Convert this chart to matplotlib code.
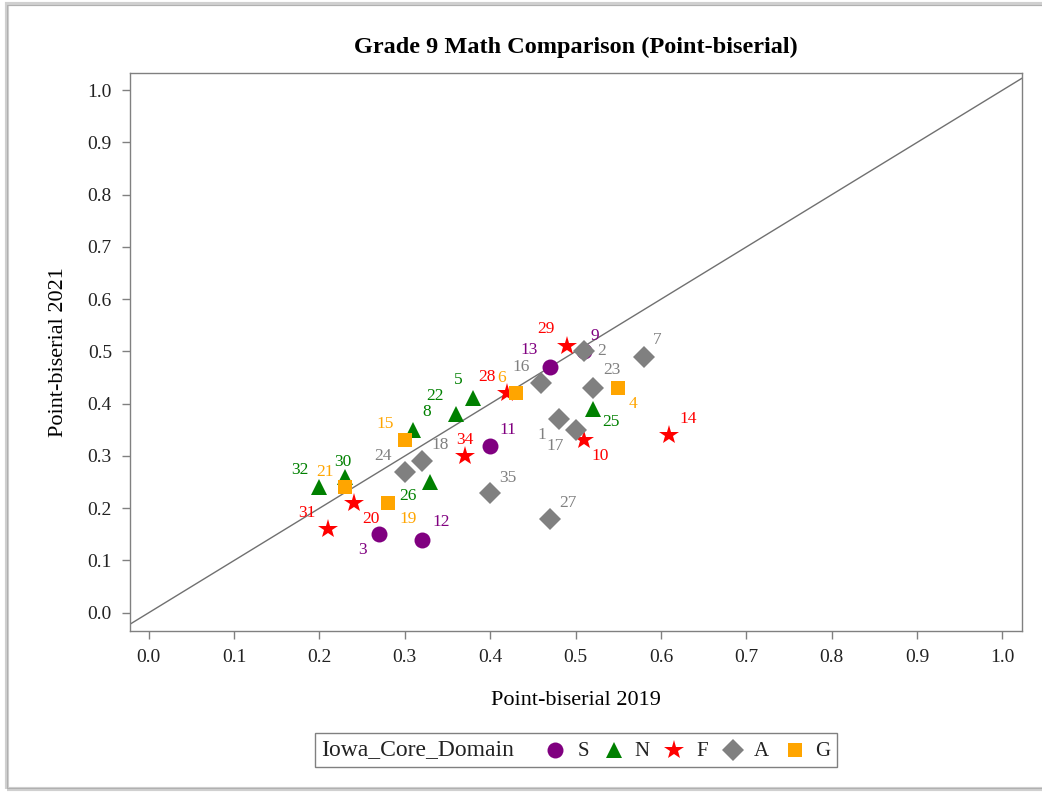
import matplotlib

matplotlib.use("Agg")
import matplotlib.pyplot as plt
from matplotlib.lines import Line2D
from matplotlib.patches import Rectangle

plt.rcParams["font.family"] = ["Liberation Serif", "DejaVu Serif"]

# item numbers, domain and point-biserial values
item_ids = [1, 2, 3, 4, 5, 6, 7, 8, 9, 10, 11, 12, 13, 14, 15, 16, 17,
            18, 19, 20, 21, 22, 23, 24, 25, 26, 27, 28, 29, 30, 31, 32,
            34, 35]
domains = ["A", "A", "S", "G", "N", "G", "A", "N", "S", "F", "S", "S",
           "S", "F", "G", "A", "A", "A", "G", "F", "G", "N", "A", "A",
           "N", "N", "A", "F", "F", "N", "F", "N", "F", "A"]
pb_2019 = [0.48, 0.51, 0.27, 0.55, 0.38, 0.43, 0.58, 0.31, 0.51, 0.51,
           0.40, 0.32, 0.47, 0.61, 0.30, 0.46, 0.50, 0.32, 0.28, 0.24,
           0.23, 0.36, 0.52, 0.30, 0.52, 0.33, 0.47, 0.42, 0.49, 0.23,
           0.21, 0.20, 0.37, 0.40]
pb_2021 = [0.37, 0.50, 0.15, 0.43, 0.41, 0.42, 0.49, 0.35, 0.50, 0.33,
           0.32, 0.14, 0.47, 0.34, 0.33, 0.44, 0.35, 0.29, 0.21, 0.21,
           0.24, 0.38, 0.43, 0.27, 0.39, 0.25, 0.18, 0.42, 0.51, 0.26,
           0.16, 0.24, 0.30, 0.23]
domain_order = ["S", "N", "F", "A", "G"]
ticks = [0.0, 0.1, 0.2, 0.3, 0.4, 0.5, 0.6, 0.7, 0.8, 0.9, 1.0]

STYLE = {
    "S": dict(marker="o", color="#800080", ms=11.5),
    "N": dict(marker="^", color="#008000", ms=11),
    "F": dict(marker="*", color="#ff0000", ms=14.5),
    "A": dict(marker="D", color="#808080", ms=11.5),
    "G": dict(marker="s", color="#ffa500", ms=10.5),
}
LABEL_COLOR = {"S": "#800080", "N": "#008000", "F": "#ff0000",
               "A": "#808080", "G": "#ffa500"}
# label placement around each marker, in pixels (dx, dy up)
LABEL_OFFSET = {
    1: (-17, -16), 2: (18, 0), 3: (-17, -16), 4: (15, -16), 5: (-15, 18),
    6: (-14, 15), 7: (13, 17), 8: (13, 18), 9: (11, 15), 10: (16, -16),
    11: (18, 16), 12: (19, 18), 13: (-21, 17), 14: (19, 16), 15: (-20, 16),
    16: (-20, 16), 17: (-20, -16), 18: (18, 16), 19: (20, -16),
    20: (17, -16), 21: (-20, 15), 22: (-21, 18), 23: (19, 18),
    24: (-22, 16), 25: (18, -13), 26: (-23, -14), 27: (18, 16),
    28: (-20, 16), 29: (-21, 17), 30: (-2, 15), 31: (-21, 16),
    32: (-20, 17), 34: (0, 16), 35: (18, 15),
}

W, H = 1042, 792
fig = plt.figure(figsize=(W / 100, H / 100), dpi=100)
ax = fig.add_axes([130 / W, 1 - 631 / H, 892 / W, 558 / H])

ax.plot([-0.1, 1.1], [-0.1, 1.1], color="#707070", linewidth=1.0, zorder=1)

for dom in domain_order:
    idx = [i for i, d in enumerate(domains) if d == dom]
    st = STYLE[dom]
    ax.plot([pb_2019[i] for i in idx], [pb_2021[i] for i in idx],
            linestyle="none", marker=st["marker"], color=st["color"],
            markersize=st["ms"], markeredgewidth=0, zorder=3)

for i, item in enumerate(item_ids):
    dx, dy = LABEL_OFFSET[item]
    ax.annotate(str(item), (pb_2019[i], pb_2021[i]), xytext=(dx, dy),
                textcoords="offset pixels", ha="center", va="center",
                fontsize=12.5, color=LABEL_COLOR[domains[i]], zorder=4)

ax.set_xlim(-0.022, 1.023)
ax.set_ylim(-0.035, 1.033)
ax.set_xticks(ticks)
ax.set_yticks(ticks)
ax.set_xticklabels([f"{t:.1f}" for t in ticks])
ax.set_yticklabels([f"{t:.1f}" for t in ticks])
ax.tick_params(direction="out", length=6, width=1, color="#808080",
               labelsize=14, labelcolor="#222222", pad=7)
for spine in ax.spines.values():
    spine.set_color("#808080")
    spine.set_linewidth(1.0)

ax.set_xlabel("Point-biserial 2019", fontsize=16, labelpad=18)
ax.set_ylabel("Point-biserial 2021", fontsize=16, labelpad=14)
fig.text(576 / W, 1 - 47 / H, "Grade 9 Math Comparison (Point-biserial)",
         ha="center", va="center", fontsize=17.5, fontweight="bold")


# legend strip with the title on the left
def fx(px):
    return px / W


def fy(py):
    return 1 - py / H


fig.add_artist(Rectangle((fx(315), fy(767)), fx(837) - fx(315),
                         fy(733) - fy(767), transform=fig.transFigure,
                         facecolor="white", edgecolor="#808080",
                         linewidth=1.0))
fig.text(fx(321), fy(750), "Iowa_Core_Domain", ha="left", va="center",
         fontsize=17, color="#222222")
legend_x = [555, 614, 674, 733, 795]
for dom, px in zip(domain_order, legend_x):
    st = STYLE[dom]
    fig.add_artist(Line2D([fx(px)], [fy(750)], transform=fig.transFigure,
                          linestyle="none", marker=st["marker"],
                          color=st["color"], markersize=st["ms"],
                          markeredgewidth=0))
    fig.text(fx(px + 28), fy(751), dom, ha="center", va="center",
             fontsize=15, color="#222222")

# outer frame with soft shadow
fig.add_artist(Rectangle((fx(7), fy(789)), fx(1100) - fx(7),
                         fy(4) - fy(789), transform=fig.transFigure,
                         facecolor="none", edgecolor="#d0d0d0",
                         linewidth=3.0))
fig.add_artist(Rectangle((fx(7), fy(788)), fx(1100) - fx(7),
                         fy(5) - fy(788), transform=fig.transFigure,
                         facecolor="none", edgecolor="#b0b0b0",
                         linewidth=0.8))

fig.savefig("out.png", dpi=100)
